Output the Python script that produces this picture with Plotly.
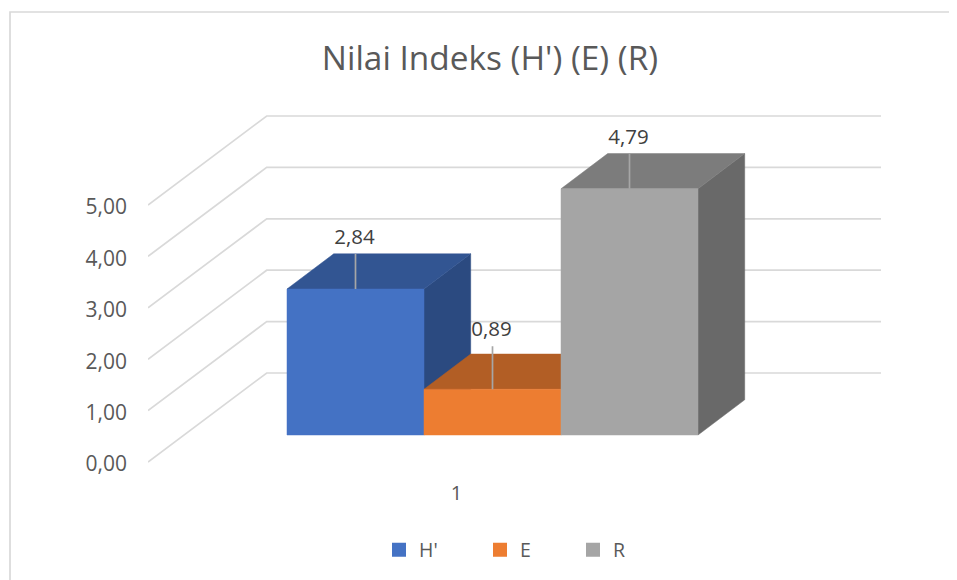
import plotly.graph_objects as go

# data
kategori = ["1"]
seri = ["H'", "E", "R"]
nilai = [2.84, 0.89, 4.79]
label_nilai = ["2,84", "0,89", "4,79"]
tick_y = [0, 1, 2, 3, 4, 5]

warna_depan = ["#4472C4", "#ED7D31", "#A5A5A5"]
warna_atas = ["#325592", "#B25E25", "#7C7C7C"]
warna_sisi = ["#2B4A80", "#9A5020", "#696969"]
warna_grid = "#D9D9D9"
warna_teks = "#595959"

# halaman punya margin body 8px, jadi figur lebih kecil dan semua posisi digeser
GESER = 8
LEBAR = 957 - GESER
TINGGI = 580 - GESER
PX_X = 137.0
PX_Y = 51.4
KIRI = 148 - GESER
KANAN = 881 - GESER
ATAS = 100 - GESER
BAWAH = 470 - GESER
NOL_Y = 462 - GESER
NOL_X = 287 - GESER

def xpx(p):
    return (p - NOL_X) / PX_X

def ypx(p):
    return (NOL_Y - p) / PX_Y

def paper_x(p):
    return (p - KIRI) / (KANAN - KIRI)

def paper_y(p):
    return (BAWAH - p) / (BAWAH - ATAS)

# kedalaman lantai (dinding belakang) dan kedalaman batang
DALAM_X = 118.7 / PX_X
DALAM_Y = 89.0 / PX_Y
BATANG_X = 46.7 / PX_X
BATANG_Y = 35.2 / PX_Y
ALAS = ypx(435 - GESER)
SUDUT_X = DALAM_X + xpx(KIRI)
UJUNG_X = xpx(KANAN)
# panjang garis penunjuk label per batang
penunjuk = [35, 43, 35]
JARAK_LABEL = 15

fig = go.Figure()

# garis kisi: samping lalu dinding belakang
for t in tick_y:
    fig.add_trace(go.Scatter(
        x=[xpx(KIRI), SUDUT_X, UJUNG_X],
        y=[t, t + DALAM_Y, t + DALAM_Y],
        mode="lines", line=dict(color=warna_grid, width=1.7),
        showlegend=False, hoverinfo="skip"))

for i, v in enumerate(nilai):
    x0, x1 = i, i + 1
    puncak = ALAS + v
    # sisi kanan
    fig.add_trace(go.Scatter(
        x=[x1, x1 + BATANG_X, x1 + BATANG_X, x1, x1],
        y=[ALAS, ALAS + BATANG_Y, puncak + BATANG_Y, puncak, ALAS],
        mode="lines", fill="toself", fillcolor=warna_sisi[i],
        line=dict(color=warna_sisi[i], width=0.5), showlegend=False, hoverinfo="skip"))
    # atas
    fig.add_trace(go.Scatter(
        x=[x0, x0 + BATANG_X, x1 + BATANG_X, x1, x0],
        y=[puncak, puncak + BATANG_Y, puncak + BATANG_Y, puncak, puncak],
        mode="lines", fill="toself", fillcolor=warna_atas[i],
        line=dict(color=warna_atas[i], width=0.5), showlegend=False, hoverinfo="skip"))
    # depan
    fig.add_trace(go.Scatter(
        x=[x0, x1, x1, x0, x0],
        y=[ALAS, ALAS, puncak, puncak, ALAS],
        mode="lines", fill="toself", fillcolor=warna_depan[i],
        line=dict(color=warna_depan[i], width=0.5), name=seri[i], showlegend=False,
        hovertemplate=seri[i] + ": " + label_nilai[i] + "<extra></extra>"))

for i, v in enumerate(nilai):
    puncak = ALAS + v
    tengah = i + 0.5
    atas_garis = puncak + penunjuk[i] / PX_Y
    fig.add_trace(go.Scatter(
        x=[tengah, tengah], y=[puncak, atas_garis],
        mode="lines", line=dict(color="#A6A6A6", width=1.7),
        showlegend=False, hoverinfo="skip"))
    fig.add_trace(go.Scatter(
        x=[tengah - 1 / PX_X], y=[atas_garis + JARAK_LABEL / PX_Y],
        mode="text", text=[label_nilai[i]],
        textposition="middle center",
        textfont=dict(family="Open Sans", size=20.5, color="#404040"),
        showlegend=False, hoverinfo="skip", cliponaxis=False))

# entri legenda, masing-masing legenda sendiri supaya jaraknya sama dengan aslinya
nama_legenda = ["legend", "legend2", "legend3"]
for i, s in enumerate(seri):
    fig.add_trace(go.Scatter(
        x=[None], y=[None], mode="markers", name=s,
        marker=dict(symbol="square", size=14, color=warna_depan[i]),
        legend=nama_legenda[i], showlegend=True))

def legenda(px_kiri):
    return dict(
        x=paper_x(px_kiri - GESER), y=paper_y(550 - GESER),
        xanchor="left", yanchor="middle",
        bgcolor="rgba(0,0,0,0)", itemwidth=30, indentation=-7,
        font=dict(family="Open Sans", size=19.5, color=warna_teks))

fig.update_layout(
    width=LEBAR, height=TINGGI,
    margin=dict(l=KIRI, r=LEBAR - KANAN, t=ATAS, b=TINGGI - BAWAH, autoexpand=False),
    paper_bgcolor="white", plot_bgcolor="white",
    separators=",.",
    title=dict(
        text="Nilai Indeks (H') (E) (R)",
        x=paper_x(490 - GESER), xref="paper", xanchor="center",
        y=1 - (58 - GESER) / TINGGI, yref="container", yanchor="middle",
        font=dict(family="Open Sans", size=33.4, color=warna_teks)),
    xaxis=dict(
        range=[xpx(KIRI), xpx(KANAN)],
        tickmode="array", tickvals=[xpx(456.5 - GESER)], ticktext=kategori,
        showgrid=False, zeroline=False, showline=False, ticks="",
        ticklabelstandoff=9,
        tickfont=dict(family="Open Sans", size=20, color=warna_teks)),
    yaxis=dict(
        range=[ypx(BAWAH), ypx(ATAS)],
        tickmode="array", tickvals=tick_y, tickformat=".2f",
        showgrid=False, zeroline=False, showline=False, ticks="",
        ticklabelstandoff=20, ticklabelshift=2,
        tickfont=dict(family="Open Sans", size=21, color=warna_teks)),
    legend=legenda(386),
    legend2=legenda(487),
    legend3=legenda(580),
    # bingkai: sisi kanan dan bawah jatuh di luar gambar
    shapes=[dict(
        type="rect", xref="paper", yref="paper",
        x0=paper_x(10 - GESER), x1=paper_x(LEBAR + 20),
        y0=paper_y(TINGGI + 20), y1=paper_y(12 - GESER),
        line=dict(color=warna_grid, width=1.7), layer="below")],
)

fig.write_html("out.html")
